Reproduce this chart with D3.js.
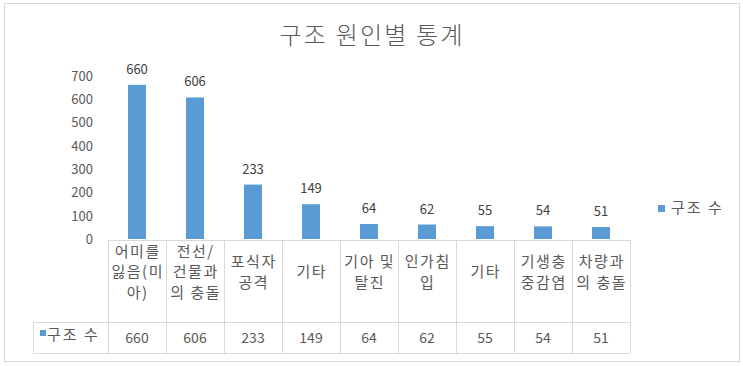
<!DOCTYPE html>
<html><head><meta charset="utf-8">
<script src="https://cdn.jsdelivr.net/npm/d3@7"></script>
<style>html,body{margin:0;padding:0;background:#fff;}svg{display:block;}</style>
</head><body>
<script>
const title = "구조 원인별 통계";
const seriesName = "구조 수";
const categories = ["어미를\n잃음(미\n아)", "전선/\n건물과\n의 충돌", "포식자\n공격", "기타", "기아 및\n탈진", "인가침\n입", "기타", "기생충\n중감염", "차량과\n의 충돌"];
const values = [660, 606, 233, 149, 64, 62, 55, 54, 51];
const yTicks = [0, 100, 200, 300, 400, 500, 600, 700];

const W = 743, H = 366;
const font = "'Noto Sans CJK KR', 'Noto Sans', sans-serif";
const textColor = "#595959";
const barColor = "#5B9BD5";
const lineColor = "#D9D9D9";

const svg = d3.select("body").append("svg").attr("width", W).attr("height", H);
svg.append("rect").attr("x", 0).attr("y", 0).attr("width", W).attr("height", H).attr("fill", "#fff");
svg.append("rect").attr("x", 4.5).attr("y", 3.5).attr("width", 735).attr("height", 358)
  .attr("fill", "none").attr("stroke", lineColor);

// Title
svg.append("text").attr("x", 371).attr("y", 44).attr("text-anchor", "middle")
  .attr("font-family", font).attr("font-size", 24).attr("font-weight", 300).attr("fill", textColor)
  .attr("textLength", 183).attr("lengthAdjust", "spacing").text(title);

const x = d3.scaleBand().domain(d3.range(categories.length)).range([108, 630]).paddingInner(0).paddingOuter(0);
const y = d3.scaleLinear().domain([0, 700]).range([239, 75.5]);
const barW = 18;

// Y axis labels
const yAxis = d3.axisLeft(y).tickValues(yTicks).tickSize(0).tickPadding(0);
const gy = svg.append("g").attr("transform", "translate(93,0)").call(yAxis);
gy.select(".domain").remove();
gy.selectAll("text").attr("font-family", font).attr("font-size", 13).attr("fill", textColor).attr("dy", "0.35em");

// Bars
svg.append("g").selectAll("rect").data(values).join("rect")
  .attr("x", (d, i) => x(i) + x.bandwidth() / 2 - barW / 2)
  .attr("y", d => y(d)).attr("width", barW).attr("height", d => y(0) - y(d))
  .attr("fill", barColor);

// Data labels
svg.append("g").selectAll("text").data(values).join("text")
  .attr("x", (d, i) => x(i) + x.bandwidth() / 2).attr("y", d => y(d) - 11)
  .attr("text-anchor", "middle").attr("font-family", font).attr("font-size", 13)
  .attr("fill", "#404040").text(d => d);

// Data table
const tTop = 240, tMid = 322, tBot = 353, tLeft = 33;
const tg = svg.append("g").attr("stroke", lineColor).attr("stroke-width", 1).attr("shape-rendering", "crispEdges");
tg.append("line").attr("x1", x.range()[0]).attr("x2", x.range()[1]).attr("y1", tTop).attr("y2", tTop);
tg.append("line").attr("x1", tLeft).attr("x2", x.range()[1]).attr("y1", tMid).attr("y2", tMid);
tg.append("line").attr("x1", tLeft).attr("x2", x.range()[1]).attr("y1", tBot).attr("y2", tBot);
tg.append("line").attr("x1", tLeft).attr("x2", tLeft).attr("y1", tMid).attr("y2", tBot);
const bounds = d3.range(categories.length + 1).map(i => i < categories.length ? x(i) : x.range()[1]);
tg.selectAll("line.v").data(bounds).join("line").attr("class", "v")
  .attr("x1", d => d).attr("x2", d => d).attr("y1", tTop).attr("y2", tBot);

// Category labels
const lineH = 20.5;
const cg = svg.append("g");
categories.forEach((c, i) => {
  const lines = c.split("\n");
  const cy = 272 - (lines.length - 1) * lineH / 2;
  const t = cg.append("text").attr("text-anchor", "middle").attr("font-family", font)
    .attr("font-size", 15).attr("letter-spacing", 1.5).attr("fill", textColor);
  lines.forEach((l, j) => {
    t.append("tspan").attr("x", x(i) + x.bandwidth() / 2 + 0.75).attr("y", cy + j * lineH).attr("dy", "0.35em").text(l);
  });
});

// Value row
svg.append("g").selectAll("text").data(values).join("text")
  .attr("x", (d, i) => x(i) + x.bandwidth() / 2).attr("y", 338).attr("dy", "0.35em")
  .attr("text-anchor", "middle").attr("font-family", font).attr("font-size", 14)
  .attr("fill", textColor).text(d => d);

// Table legend key
svg.append("rect").attr("x", 40).attr("y", 330).attr("width", 6).attr("height", 6).attr("fill", barColor);
svg.append("text").attr("x", 47).attr("y", 335).attr("dy", "0.35em").attr("font-family", font)
  .attr("font-size", 15).attr("letter-spacing", 2).attr("fill", textColor).text(seriesName);

// Right legend
svg.append("rect").attr("x", 658).attr("y", 205).attr("width", 7).attr("height", 7).attr("fill", barColor);
svg.append("text").attr("x", 671).attr("y", 208).attr("dy", "0.35em").attr("font-family", font)
  .attr("font-size", 15).attr("letter-spacing", 2).attr("fill", textColor).text(seriesName);
</script>
</body></html>
